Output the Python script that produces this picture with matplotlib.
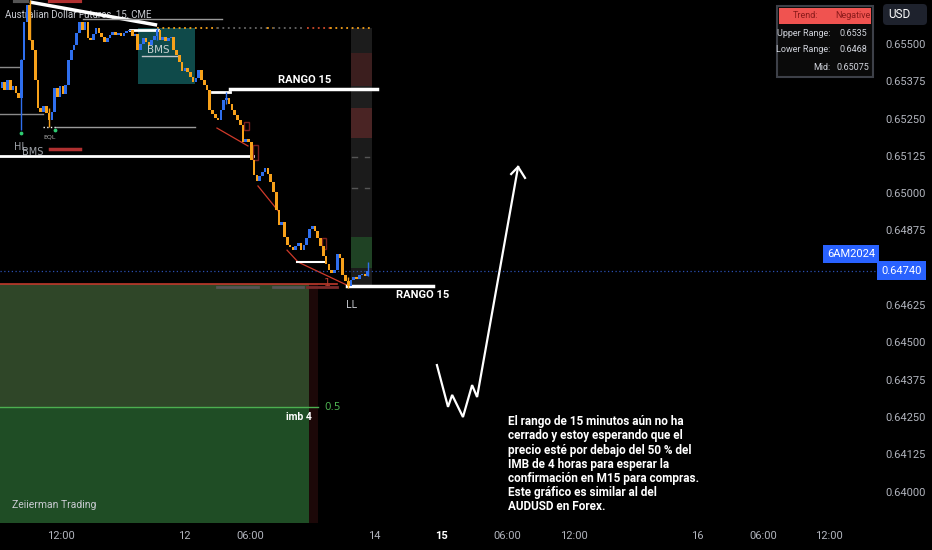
import matplotlib
matplotlib.use('Agg')
import matplotlib.pyplot as plt
import matplotlib.transforms as mtransforms
from matplotlib.patches import Rectangle, FancyBboxPatch

# 15 minute candles of 6AM2024 (open of the first bar, then every close)
first_open = 0.65352
closes = [
    0.65372, 0.65345, 0.65379, 0.65345, 0.65359, 0.65335, 0.65319, 0.65446, 0.65573, 0.65630,
    0.65513, 0.65479, 0.65379, 0.65285, 0.65272, 0.65292, 0.65268, 0.65245, 0.65272, 0.65352,
    0.65322, 0.65359, 0.65332, 0.65362, 0.65446, 0.65479, 0.65496, 0.65536, 0.65573, 0.65547,
    0.65573, 0.65520, 0.65513, 0.65533, 0.65553, 0.65536, 0.65523, 0.65506, 0.65520, 0.65530,
    0.65540, 0.65530, 0.65536, 0.65526, 0.65536, 0.65543, 0.65547, 0.65526, 0.65533, 0.65479,
    0.65500, 0.65520, 0.65506, 0.65496, 0.65513, 0.65526, 0.65547, 0.65513, 0.65523, 0.65510,
    0.65520, 0.65523, 0.65479, 0.65463, 0.65439, 0.65409, 0.65419, 0.65406, 0.65389, 0.65372,
    0.65386, 0.65412, 0.65379, 0.65362, 0.65345, 0.65278, 0.65265, 0.65252, 0.65245, 0.65278,
    0.65312, 0.65319, 0.65299, 0.65278, 0.65262, 0.65245, 0.65228, 0.65171, 0.65181, 0.65171,
    0.65111, 0.65061, 0.65041, 0.65057, 0.65071, 0.65084, 0.65064, 0.65037, 0.65004, 0.64943,
    0.64893, 0.64903, 0.64853, 0.64826, 0.64820, 0.64809, 0.64823, 0.64833, 0.64809, 0.64826,
    0.64850, 0.64880, 0.64890, 0.64873, 0.64850, 0.64823, 0.64789, 0.64763, 0.64742, 0.64732,
    0.64742, 0.64796, 0.64783, 0.64726, 0.64706, 0.64689, 0.64709, 0.64719, 0.64712, 0.64726,
    0.64729, 0.64722, 0.64740,
]
# bars with a visible wick: bar -> (high, low)
wicks = {7: (0.65450, 0.65211), 10: (0.65647, 0.65513), 17: (0.65285, 0.65222),
         56: (0.65553, 0.65513), 81: (0.65339, 0.65299), 125: (0.64720, 0.64682),
         132: (0.64769, 0.64722)}
last_price = 0.64740

price_ticks = [0.65500, 0.65375, 0.65250, 0.65125, 0.65000, 0.64875,
               0.64625, 0.64500, 0.64375, 0.64250, 0.64125, 0.64000]
time_pos = [21.3, 65.7, 89.5, 134.3, 158.5, 182.3, 206.5, 250.9, 274.7, 298.6]
time_labels = ['12:00', '12', '06:00', '14', '15', '06:00', '12:00', '16', '06:00', '12:00']

# levels drawn by the indicators
upper_range = 0.65349
lower_range = 0.64689
imb_top, imb_mid = 0.64696, 0.64284
bms_box = (49.1, 69.7, 0.65366, 0.65553)
eql_level = 0.65222
hl_level = 0.65124
red_trend = [((77.6, 0.65218), (88.8, 0.65158)), ((92.4, 0.65024), (100.0, 0.64937)),
             ((102.9, 0.64809), (106.9, 0.64769)), ((106.9, 0.64769), (124.5, 0.64692))]
arrow_bars = [157.0, 161.0, 162.5, 166.4, 169.7, 171.5, 186.3]
arrow_prices = [0.64424, 0.64284, 0.64324, 0.64250, 0.64357, 0.64317, 0.65088]

note = ("El rango de 15 minutos aún no ha\ncerrado y estoy esperando que el\n"
        "precio esté por debajo del 50 % del\nIMB de 4 horas para esperar la\n"
        "confirmación en M15 para compras.\nEste gráfico es similar al del\nAUDUSD en Forex.")

BLUE = '#2f6fee'
ORANGE = '#f7a11a'
AXIS = '#b2b5be'

fig = plt.figure(figsize=(9.32, 5.5), dpi=100, facecolor='black')
ax = fig.add_axes([0, 27 / 550, 876 / 932, 523 / 550], facecolor='black')
ax.set_xlim(-0.72, 315.5)
ax.set_ylim(0.63895, 0.65647)
for s in ax.spines.values():
    s.set_visible(False)

ax.text(5 / 876, 0.973, 'Australian Dollar Futures, 15, CME', transform=ax.transAxes,
        color='#c8cad0', fontsize=7, family='Roboto', va='center', zorder=0.5)

# imbalance zone (4h)
ax.add_patch(Rectangle((-1, imb_mid), 111.8, imb_top - imb_mid, fc='#2f4628', ec='none', zorder=1))
ax.add_patch(Rectangle((-1, 0.6385), 111.8, imb_mid - 0.6385, fc='#1f4d25', ec='none', zorder=1))
ax.add_patch(Rectangle((110.8, 0.6385), 3.3, imb_top - 0.6385, fc='#1c0808', ec='none', zorder=1))
ax.plot([-1, 114.1], [imb_mid, imb_mid], color='#4caf50', lw=1, zorder=2)
ax.text(116.3, imb_mid, '0.5', color='#4caf50', fontsize=7.5, va='center', zorder=4)
ax.text(111.9, 0.64250, 'imb 4', color='white', fontsize=7.5, fontweight='bold',
        family='Roboto', ha='right', va='center', zorder=4)
ax.plot([-1, 121], [imb_top, imb_top], color='#c0392b', lw=1.2, zorder=2)
ax.text(117.3, imb_top + 0.00002, '1', color='#b03a2e', fontsize=8, ha='center', va='center', zorder=2)
for a, b in [(77.6, 92.4), (97.8, 108.7)]:
    ax.plot([a, b], [0.64686, 0.64686], color='#555555', lw=2, zorder=2)
ax.plot([110, 121], [0.64686, 0.64686], color='#7a2a2a', lw=2, zorder=2)

# range column on the right of the candles
column = [(0.65553, 0.65469, '#1c1c1c'), (0.65469, 0.65359, '#3b1e1e'),
          (0.65359, 0.65285, '#1e1e1e'), (0.65285, 0.65185, '#4a2424'),
          (0.65185, 0.64853, '#1b1b1b'), (0.64853, 0.64749, '#1f4224'),
          (0.64749, 0.64682, '#1b1b1b')]
for top, bot, col in column:
    ax.add_patch(Rectangle((126.0, bot), 7.6, top - bot, fc=col, ec='none', zorder=1))
for lvl in [0.65121, 0.65017]:
    ax.plot([126.5, 128.0], [lvl, lvl], color='#555555', lw=1, zorder=1.5)
    ax.plot([131.0, 132.5], [lvl, lvl], color='#555555', lw=1, zorder=1.5)

# BMS box
x0, x1, y0, y1 = bms_box
ax.add_patch(Rectangle((x0, y0), x1 - x0, y1 - y0, fc='#0f4a4a', ec='none', zorder=1))
ax.text(56.3, 0.65480, 'BMS', color='#c8d0d0', fontsize=7.5, ha='center', va='center', zorder=4)
ax.plot([50.5, 63.2], [0.65459, 0.65459], color='#c0c4c8', lw=1, zorder=2)

# structure lines
ax.plot([10.1, 56.0], [0.65640, 0.65563], color='white', lw=2.5, zorder=2, solid_capstyle='butt')
ax.plot([4.7, 9.0], [0.65645, 0.65645], color='#555555', lw=3, zorder=2)
ax.plot([17.3, 28.2], [0.65645, 0.65645], color='#b03030', lw=3, zorder=2)
ax.plot([29.2, 79.4], [0.65583, 0.65583], color='#9a9a9a', lw=1, zorder=2)
ax.plot([46.2, 56.3], [0.65547, 0.65547], color='white', lw=2, zorder=2)
dots = [(56.0, 77.6, ORANGE), (77.6, 95.7, '#666666'), (95.7, 97.8, ORANGE),
        (97.8, 108.7, '#666666'), (110.0, 118.4, '#d04a2a'), (118.4, 133.6, ORANGE)]
for a, b, col in dots:
    ax.plot([a, b], [0.65553, 0.65553], color=col, lw=1.3, ls=(0, (1, 2)), zorder=2)
ax.plot([-1, 6.5], [0.65423, 0.65423], color='#8a8a8a', lw=1, zorder=2)
ax.plot([-1, 14.8], [0.65265, 0.65265], color='#8a8a8a', lw=1, zorder=2)
ax.plot([19.1, 69.7], [eql_level, eql_level], color='#9a9a9a', lw=1, zorder=2)
ax.plot([14.8, 19.1], [eql_level, eql_level], color='white', lw=1, ls=':', zorder=2)
ax.scatter([6.9, 19.1], [0.65201, 0.65211], s=3, color='#2ecc71', zorder=4)
ax.text(17.0, 0.65188, 'EQL', color='#b0b0b0', fontsize=4.5, ha='center', va='center', zorder=4)
ax.text(6.5, 0.65155, 'HL', color='#a0a4aa', fontsize=7, ha='center', va='center', zorder=4)
ax.text(11.2, 0.65138, 'BMS', color='#a0a4aa', fontsize=7, ha='center', va='center', zorder=4)
ax.plot([17.3, 28.2], [0.65148, 0.65148], color='#b03030', lw=2.5, zorder=2)
ax.plot([-1, 90.6], [hl_level, hl_level], color='white', lw=2, zorder=2)
for (a, pa), (b, pb) in red_trend:
    ax.plot([a, b], [pa, pb], color='#d03a2a', lw=0.9, zorder=2)
for a, b, lo, hi in [(87.3, 89.1, 0.65211, 0.65238), (90.6, 92.4, 0.65111, 0.65161),
                     (115.5, 117.0, 0.64813, 0.64850)]:
    ax.add_patch(Rectangle((a, lo), b - a, hi - lo, fc='none', ec='#7a2020', lw=1, zorder=2))
ax.plot([106.5, 116.6], [0.64769, 0.64769], color='white', lw=1.5, zorder=2)

# ranges of the 15 minute chart
ax.plot([82.3, 135.4], [upper_range, upper_range], color='white', lw=2.5, zorder=2)
ax.plot([75.8, 82.3], [0.65339, 0.65339], color='white', lw=2, zorder=2)
ax.text(109.4, 0.65379, 'RANGO 15', color='white', fontsize=8, fontweight='bold',
        family='Roboto', ha='center', va='center', zorder=4)
ax.plot([124.5, 155.6], [lower_range, lower_range], color='white', lw=2.5, zorder=2)
ax.text(152.0, 0.64659, 'RANGO 15', color='white', fontsize=8, fontweight='bold',
        family='Roboto', ha='center', va='center', zorder=4)
ax.text(126.0, 0.64625, 'LL', color='#c8cad0', fontsize=7, ha='center', va='center', zorder=4)

# last price line
ax.axhline(last_price, color='#2a4fb0', lw=0.9, ls=(0, (1, 2)), zorder=2)

# candles
opens = [first_open] + closes[:-1]
xs = list(range(len(closes)))
colors = [BLUE if c >= o else ORANGE for o, c in zip(opens, closes)]
for i, (o, c) in enumerate(zip(opens, closes)):
    if i in wicks:
        hi, lo = wicks[i]
        ax.vlines(i, lo, hi, color=colors[i], lw=1, zorder=3)
heights = [c - o if abs(c - o) > 0.00003 else 0.00003 for o, c in zip(opens, closes)]
ax.bar(xs, heights, bottom=opens, width=0.95, color=colors, linewidth=0, zorder=3)

# arrow idea
ax.plot(arrow_bars, arrow_prices, color='white', lw=1.6, zorder=4, solid_joinstyle='miter')
ax.plot([183.8, arrow_bars[-1], 188.8], [0.65064, arrow_prices[-1], 0.65051],
        color='white', lw=1.6, zorder=4)
ax.text(182.7, 0.64256, note, color='white', fontsize=8.5, family='Roboto', fontweight='bold',
        va='top', ha='left', linespacing=1.12, zorder=4)
ax.text(12 / 876, 0.034, 'Zeiierman Trading', transform=ax.transAxes, color='#c8cad0',
        fontsize=7.5, family='Roboto', va='center', zorder=4)

# axes
ax.yaxis.tick_right()
ax.set_yticks(price_ticks)
ax.set_yticklabels([f'{p:.5f}' for p in price_ticks], family='Roboto')
ax.set_xticks(time_pos)
ax.set_xticklabels(time_labels, family='Roboto')
ax.tick_params(axis='y', length=0, pad=7, labelsize=8, labelcolor=AXIS)
ax.tick_params(axis='x', length=0, pad=6, labelsize=8, labelcolor=AXIS)
for lab in ax.get_xticklabels():
    if lab.get_text() == '15':
        lab.set_color('white')
        lab.set_fontweight('bold')

trans = mtransforms.blended_transform_factory(fig.transFigure, ax.transData)
ax.text(881 / 932, last_price, f'{last_price:.5f}', transform=trans, color='white', fontsize=8,
        family='Roboto', va='center', ha='left', clip_on=False, zorder=5,
        bbox=dict(fc='#2962ff', ec='none', boxstyle='square,pad=0.4'))

# overlay in pixel units for the chart furniture
ov = fig.add_axes([0, 0, 1, 1])
ov.set_xlim(0, 932)
ov.set_ylim(550, 0)
ov.axis('off')
ov.patch.set_alpha(0)
ov.text(851, 254, '6AM2024', color='white', fontsize=8, family='Roboto', ha='center', va='center',
        bbox=dict(fc='#2962ff', ec='none', boxstyle='square,pad=0.35'))
ov.add_patch(FancyBboxPatch((883, 4), 44, 21, boxstyle='round,pad=0,rounding_size=4',
                            fc='#1e222d', ec='none'))
ov.text(888, 14.5, 'USD', color='white', fontsize=8.5, family='Roboto', va='center', ha='left')

ov.add_patch(Rectangle((777, 6), 96, 71, fc='#0a0a0a', ec='#3d4048', lw=1.5))
ov.add_patch(Rectangle((779, 8), 92, 16, fc='#f05350', ec='none'))
ov.text(805, 16, 'Trend:', color='#8a1a1a', fontsize=6.5, family='Roboto', ha='center', va='center')
ov.text(853, 16, 'Negative', color='#8a1a1a', fontsize=6.5, family='Roboto', ha='center', va='center')
table_rows = [('Upper Range:', '0.6535'), ('Lower Range:', '0.6468'), ('Mid:', '0.65075')]
for k, (lab, val) in enumerate(table_rows):
    yy = 33 + 17 * k
    ov.text(830, yy, lab, color='#d1d4dc', fontsize=6.5, family='Roboto', ha='right', va='center')
    ov.text(853, yy, val, color='#d1d4dc', fontsize=6.5, family='Roboto', ha='center', va='center')

fig.savefig('out.png', dpi=100, facecolor='black')
